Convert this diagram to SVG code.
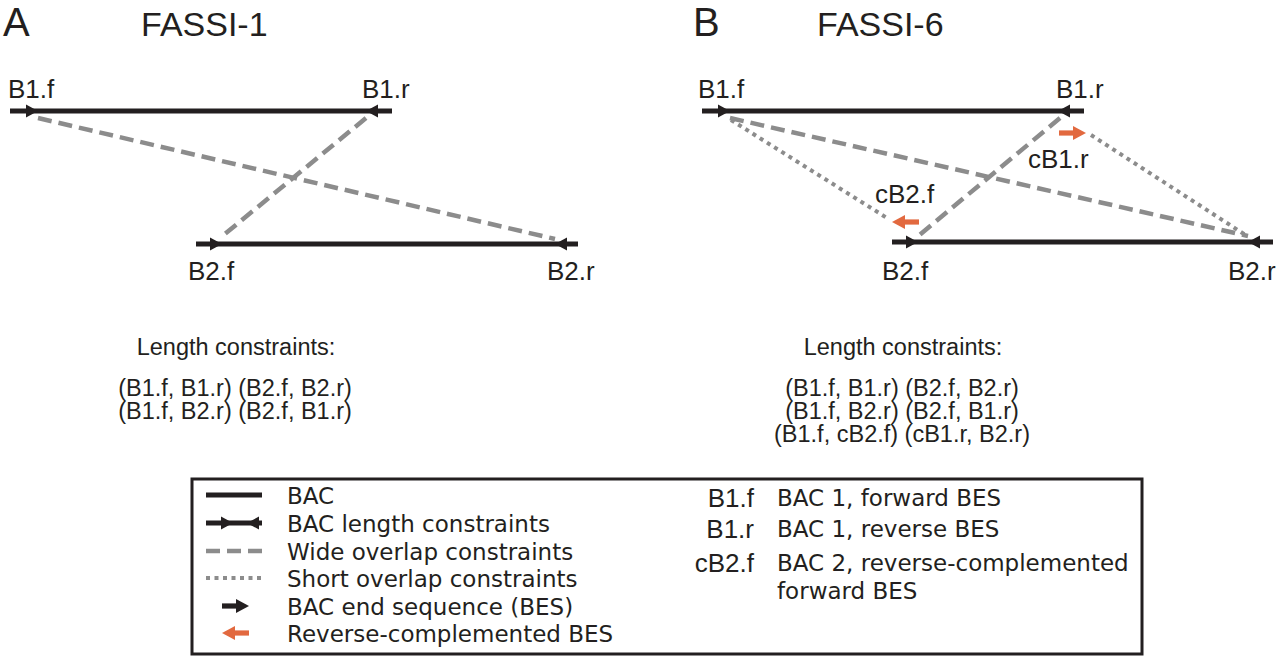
<svg xmlns="http://www.w3.org/2000/svg" xmlns:xlink="http://www.w3.org/1999/xlink" width="1280" height="656" viewBox="0 0 1280 656">
<style>
.lbl{font-family:"Liberation Sans",Arial,sans-serif;fill:#231f20}
.big{font-size:40px}
.ttl{font-size:34px}
.nm{font-size:26px}
.cons{font-size:23.5px;text-anchor:middle}
.bac{stroke:#231f20;stroke-width:5;fill:none}
.wide{stroke:#8c8c8c;stroke-width:4.5;stroke-dasharray:14 7;fill:none}
.short{stroke:#8c8c8c;stroke-width:4;stroke-dasharray:4 4.5;fill:none}
.head{fill:#231f20}
.orange{fill:#e2693f}
.leg{font-family:"DejaVu Sans",Verdana,sans-serif;font-size:23px;fill:#231f20}
.legk{font-family:"Liberation Sans",Arial,sans-serif;font-size:26px;fill:#231f20;text-anchor:end}
</style>
<defs>
<path id="hr" d="M0 0 L-12 -6.5 L-12 6.5 Z"/>
<path id="hl" d="M0 0 L12 -6.5 L12 6.5 Z"/>
<g id="ar"><rect x="-27" y="-2.6" width="16" height="5.2"/><path d="M0 0 L-13 -7 L-13 7 Z"/></g>
<g id="al"><rect x="11" y="-2.6" width="16" height="5.2"/><path d="M0 0 L13 -7 L13 7 Z"/></g>
</defs>

<!-- Panel A -->
<g id="panelA-title">
<text class="lbl big" x="3" y="36">A</text>
<text class="lbl ttl" x="141" y="36">FASSI-1</text>
</g>
<g id="A-B1">
<line class="bac" x1="10" y1="111" x2="392" y2="111"/>
<use class="head" xlink:href="#hr" href="#hr" x="38" y="111"/>
<use class="head" xlink:href="#hl" href="#hl" x="366" y="111"/>
<text class="lbl nm" x="8" y="98">B1.f</text>
<text class="lbl nm" x="362" y="98">B1.r</text>
</g>
<g id="A-B2">
<line class="bac" x1="196" y1="244" x2="578" y2="244"/>
<use class="head" xlink:href="#hr" href="#hr" x="222" y="244"/>
<use class="head" xlink:href="#hl" href="#hl" x="555" y="244"/>
<text class="lbl nm" x="188" y="280">B2.f</text>
<text class="lbl nm" x="547" y="280">B2.r</text>
</g>
<g id="A-connectors">
<line class="wide" x1="38" y1="118" x2="555" y2="239"/>
<line class="wide" x1="366" y1="118" x2="220" y2="238"/>
</g>
<g id="A-constraints">
<text class="lbl cons" x="236" y="355">Length constraints:</text>
<text class="lbl cons" x="235" y="396">(B1.f, B1.r) (B2.f, B2.r)</text>
<text class="lbl cons" x="235" y="419">(B1.f, B2.r) (B2.f, B1.r)</text>
</g>

<!-- Panel B -->
<g id="panelB-title">
<text class="lbl big" x="693" y="36">B</text>
<text class="lbl ttl" x="817" y="36">FASSI-6</text>
</g>
<g id="B-B1">
<line class="bac" x1="702" y1="111" x2="1084" y2="111"/>
<use class="head" xlink:href="#hr" href="#hr" x="730" y="111"/>
<use class="head" xlink:href="#hl" href="#hl" x="1058" y="111"/>
<text class="lbl nm" x="698" y="98">B1.f</text>
<text class="lbl nm" x="1056" y="98">B1.r</text>
</g>
<g id="B-B2">
<line class="bac" x1="892" y1="242" x2="1273" y2="242"/>
<use class="head" xlink:href="#hr" href="#hr" x="918" y="242"/>
<use class="head" xlink:href="#hl" href="#hl" x="1248" y="242"/>
<text class="lbl nm" x="882" y="280">B2.f</text>
<text class="lbl nm" x="1228" y="280">B2.r</text>
</g>
<g id="B-cB1r">
<use class="orange" xlink:href="#ar" href="#ar" x="1086" y="133"/>
<text class="lbl nm" x="1028" y="168">cB1.r</text>
</g>
<g id="B-cB2f">
<use class="orange" xlink:href="#al" href="#al" x="892" y="222"/>
<text class="lbl nm" x="875" y="203">cB2.f</text>
</g>
<g id="B-connectors">
<line class="wide" x1="730" y1="118" x2="1248" y2="236"/>
<line class="wide" x1="1060" y1="118" x2="917" y2="237"/>
<line class="short" x1="731" y1="120" x2="887" y2="218"/>
<line class="short" x1="1091" y1="135" x2="1247" y2="236"/>
</g>
<g id="B-constraints">
<text class="lbl cons" x="903" y="355">Length constraints:</text>
<text class="lbl cons" x="902" y="396">(B1.f, B1.r) (B2.f, B2.r)</text>
<text class="lbl cons" x="902" y="419">(B1.f, B2.r) (B2.f, B1.r)</text>
<text class="lbl cons" x="902" y="442">(B1.f, cB2.f) (cB1.r, B2.r)</text>
</g>

<!-- Legend -->
<g id="legend">
<rect x="192" y="479" width="950" height="175" fill="#fff" stroke="#231f20" stroke-width="3"/>
<line class="bac" x1="206" y1="495" x2="262" y2="495"/>
<line class="bac" x1="206" y1="523" x2="262" y2="523"/>
<use class="head" xlink:href="#hr" href="#hr" x="233" y="523"/>
<use class="head" xlink:href="#hl" href="#hl" x="247" y="523"/>
<line class="wide" x1="206" y1="551" x2="262" y2="551"/>
<line class="short" x1="206" y1="578" x2="262" y2="578"/>
<use class="head" xlink:href="#ar" href="#ar" x="249" y="606"/>
<use class="orange" xlink:href="#al" href="#al" x="222" y="633"/>
<text class="leg" x="287" y="504">BAC</text>
<text class="leg" x="287" y="532">BAC length constraints</text>
<text class="leg" x="287" y="560">Wide overlap constraints</text>
<text class="leg" x="287" y="587">Short overlap constraints</text>
<text class="leg" x="287" y="615">BAC end sequence (BES)</text>
<text class="leg" x="287" y="642">Reverse-complemented BES</text>
<text class="legk" x="754" y="507">B1.f</text>
<text class="legk" x="754" y="538">B1.r</text>
<text class="legk" x="754" y="572">cB2.f</text>
<text class="leg" x="777" y="506">BAC 1, forward BES</text>
<text class="leg" x="777" y="537">BAC 1, reverse BES</text>
<text class="leg" x="777" y="571">BAC 2, reverse-complemented</text>
<text class="leg" x="777" y="599">forward BES</text>
</g>
</svg>
